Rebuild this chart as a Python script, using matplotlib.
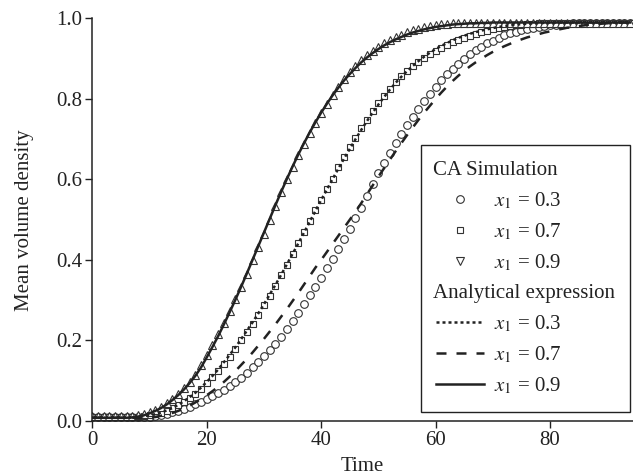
# Mean volume density vs time: CA simulation against analytical expression
import numpy as np
import matplotlib.pyplot as plt
from matplotlib.lines import Line2D

plt.rcParams['font.family'] = ['Liberation Serif', 'DejaVu Serif']
plt.rcParams['mathtext.fontset'] = 'stix'

# data, one value per time unit (t = 0 .. 94)
time = np.arange(0, 95)

ca_03 = [0.01, 0.01, 0.01, 0.01, 0.01, 0.01, 0.01, 0.01, 0.01, 0.01,
         0.01, 0.012, 0.015, 0.018, 0.022, 0.026, 0.031, 0.036, 0.042, 0.048,
         0.055, 0.062, 0.07, 0.078, 0.087, 0.097, 0.108, 0.12, 0.133, 0.147,
         0.161, 0.176, 0.192, 0.209, 0.228, 0.248, 0.269, 0.29, 0.312, 0.334,
         0.356, 0.379, 0.402, 0.427, 0.452, 0.478, 0.504, 0.53, 0.56, 0.588,
         0.615, 0.641, 0.666, 0.69, 0.713, 0.735, 0.756, 0.776, 0.795, 0.813,
         0.83, 0.846, 0.861, 0.875, 0.888, 0.9, 0.911, 0.921, 0.93, 0.938,
         0.945, 0.952, 0.958, 0.963, 0.967, 0.971, 0.974, 0.977, 0.979, 0.981,
         0.983, 0.985, 0.986, 0.987, 0.988, 0.989, 0.99, 0.99, 0.99, 0.99,
         0.99, 0.99, 0.99, 0.99, 0.99]

ca_07 = [0.01, 0.01, 0.01, 0.01, 0.01, 0.01, 0.01, 0.01, 0.01, 0.012,
         0.014, 0.017, 0.021, 0.026, 0.032, 0.039, 0.047, 0.057, 0.068, 0.08,
         0.094, 0.109, 0.125, 0.142, 0.16, 0.18, 0.2, 0.22, 0.242, 0.264,
         0.287, 0.311, 0.336, 0.362, 0.388, 0.415, 0.442, 0.469, 0.496, 0.523,
         0.55, 0.576, 0.602, 0.63, 0.655, 0.68, 0.704, 0.727, 0.749, 0.77,
         0.79, 0.808, 0.825, 0.841, 0.856, 0.869, 0.881, 0.892, 0.902, 0.911,
         0.919, 0.927, 0.934, 0.941, 0.947, 0.952, 0.957, 0.962, 0.966, 0.97,
         0.973, 0.976, 0.979, 0.981, 0.983, 0.985, 0.986, 0.987, 0.988, 0.989,
         0.99, 0.99, 0.99, 0.99, 0.99, 0.99, 0.99, 0.99, 0.99, 0.99,
         0.99, 0.99, 0.99, 0.99, 0.99]

ca_09 = [0.012, 0.012, 0.012, 0.012, 0.012, 0.012, 0.012, 0.012, 0.014, 0.017,
         0.022, 0.028, 0.035, 0.044, 0.055, 0.067, 0.081, 0.097, 0.115, 0.138,
         0.165, 0.19, 0.216, 0.244, 0.273, 0.303, 0.334, 0.366, 0.399, 0.432,
         0.465, 0.5, 0.535, 0.568, 0.6, 0.63, 0.66, 0.688, 0.715, 0.74,
         0.765, 0.788, 0.81, 0.83, 0.849, 0.866, 0.882, 0.896, 0.909, 0.92,
         0.93, 0.939, 0.947, 0.954, 0.96, 0.966, 0.971, 0.975, 0.978, 0.981,
         0.984, 0.986, 0.987, 0.988, 0.989, 0.99, 0.99, 0.99, 0.99, 0.99,
         0.99, 0.99, 0.99, 0.99, 0.99, 0.99, 0.99, 0.99, 0.99, 0.99,
         0.99, 0.99, 0.99, 0.99, 0.99, 0.99, 0.99, 0.99, 0.99, 0.99,
         0.99, 0.99, 0.99, 0.99, 0.99]

# analytical curves as they appear in the plot
an_dot = [0.008, 0.008, 0.008, 0.008, 0.008, 0.008, 0.008, 0.009, 0.01, 0.012,
          0.014, 0.017, 0.021, 0.026, 0.032, 0.04, 0.049, 0.059, 0.07, 0.083,
          0.097, 0.112, 0.128, 0.146, 0.164, 0.183, 0.203, 0.224, 0.245, 0.267,
          0.29, 0.314, 0.338, 0.363, 0.389, 0.415, 0.441, 0.468, 0.495, 0.522,
          0.549, 0.575, 0.601, 0.627, 0.652, 0.676, 0.7, 0.723, 0.745, 0.766,
          0.786, 0.805, 0.823, 0.84, 0.855, 0.869, 0.882, 0.894, 0.905, 0.915,
          0.924, 0.932, 0.939, 0.946, 0.952, 0.957, 0.962, 0.966, 0.97, 0.973,
          0.976, 0.979, 0.981, 0.983, 0.985, 0.986, 0.987, 0.988, 0.989, 0.989,
          0.99, 0.99, 0.99, 0.99, 0.99, 0.99, 0.99, 0.99, 0.99, 0.99,
          0.99, 0.99, 0.99, 0.99, 0.99]

an_dash = [0.008, 0.008, 0.008, 0.008, 0.008, 0.008, 0.008, 0.008, 0.008, 0.008,
           0.008, 0.01, 0.013, 0.016, 0.02, 0.025, 0.031, 0.038, 0.046, 0.055,
           0.064, 0.074, 0.085, 0.097, 0.11, 0.124, 0.139, 0.154, 0.17, 0.187,
           0.204, 0.222, 0.24, 0.259, 0.278, 0.298, 0.318, 0.339, 0.36, 0.381,
           0.4, 0.42, 0.44, 0.46, 0.48, 0.5, 0.52, 0.541, 0.563, 0.585,
           0.607, 0.628, 0.649, 0.67, 0.69, 0.71, 0.729, 0.748, 0.766, 0.783,
           0.8, 0.816, 0.831, 0.845, 0.858, 0.87, 0.881, 0.891, 0.9, 0.909,
           0.917, 0.924, 0.931, 0.937, 0.943, 0.948, 0.953, 0.957, 0.961, 0.965,
           0.968, 0.971, 0.974, 0.977, 0.979, 0.981, 0.983, 0.985, 0.986, 0.987,
           0.988, 0.989, 0.99, 0.99, 0.99]

an_solid = [0.008, 0.008, 0.008, 0.008, 0.008, 0.008, 0.008, 0.009, 0.011, 0.014,
            0.019, 0.025, 0.032, 0.041, 0.052, 0.064, 0.078, 0.094, 0.112, 0.133,
            0.158, 0.184, 0.211, 0.24, 0.27, 0.301, 0.333, 0.366, 0.4, 0.434,
            0.468, 0.502, 0.536, 0.569, 0.601, 0.632, 0.662, 0.69, 0.717, 0.742,
            0.766, 0.788, 0.809, 0.828, 0.846, 0.862, 0.877, 0.891, 0.903, 0.914,
            0.924, 0.933, 0.941, 0.948, 0.954, 0.96, 0.965, 0.969, 0.973, 0.976,
            0.979, 0.981, 0.983, 0.985, 0.986, 0.987, 0.988, 0.988, 0.989, 0.989,
            0.99, 0.99, 0.99, 0.99, 0.99, 0.99, 0.99, 0.99, 0.99, 0.99,
            0.99, 0.99, 0.99, 0.99, 0.99, 0.99, 0.99, 0.99, 0.99, 0.99,
            0.99, 0.99, 0.99, 0.99, 0.99]

labels = ['$x_1$ = 0.3', '$x_1$ = 0.7', '$x_1$ = 0.9']

ink = '#222222'
mk = dict(linestyle='none', markerfacecolor='white', markeredgecolor='#333333',
          markeredgewidth=0.8)
dot_style = dict(color=ink, linestyle=(0, (1.2, 1.2)), linewidth=1.8)
dash_style = dict(color=ink, linestyle=(0, (4, 4)), linewidth=1.8)
solid_style = dict(color=ink, linestyle='-', linewidth=1.8)

fig = plt.figure(figsize=(6.33, 4.75), dpi=100)
ax = fig.add_axes([0.1458, 0.1137, 0.8542, 0.8474])

ax.plot(time, ca_03, marker='o', markersize=5.5, zorder=2, **mk)
ax.plot(time, ca_07, marker='s', markersize=5, zorder=2, **mk)
ax.plot(time, ca_09, marker='^', markersize=6, zorder=2, **mk)

ax.plot(time, an_dot, zorder=3, **dot_style)
ax.plot(time, an_dash, zorder=3, **dash_style)
ax.plot(time, an_solid, zorder=3, **solid_style)

ax.set_xlim(0, 94.5)
ax.set_ylim(0, 1.0)
ax.set_xticks([0, 20, 40, 60, 80])
ax.set_yticks([0.0, 0.2, 0.4, 0.6, 0.8, 1.0])
ax.set_yticklabels(['0.0', '0.2', '0.4', '0.6', '0.8', '1.0'])
ax.set_xlabel('Time', fontsize=15, color=ink, labelpad=5)
ax.set_ylabel('Mean volume density', fontsize=15, color=ink, labelpad=16)
ax.tick_params(direction='out', length=5, width=1, labelsize=15,
               colors=ink, pad=2)
for s in ['top', 'right']:
    ax.spines[s].set_visible(False)
for s in ['left', 'bottom']:
    ax.spines[s].set_linewidth(1.1)
    ax.spines[s].set_color(ink)

# legend with two left-aligned group headers
blank1 = Line2D([], [], linestyle='none')
blank2 = Line2D([], [], linestyle='none')
handles = [blank1,
           Line2D([], [], marker='o', markersize=5.5, **mk),
           Line2D([], [], marker='s', markersize=5, **mk),
           Line2D([], [], marker='v', markersize=6, **mk),
           blank2,
           Line2D([], [], **dot_style),
           Line2D([], [], **dash_style),
           Line2D([], [], **solid_style)]
headers = ['CA Simulation', 'Analytical expression']
leg_labels = [headers[0]] + labels + [headers[1]] + labels
leg = ax.legend(handles, leg_labels, loc='lower right',
                bbox_to_anchor=(0.995, 0.022), fontsize=15, frameon=True,
                fancybox=False, framealpha=1, edgecolor=ink,
                handlelength=2.3, handletextpad=0.5, labelspacing=0.5,
                borderpad=0.75, borderaxespad=0)
leg.get_frame().set_linewidth(1.0)
for col in leg._legend_handle_box.get_children():
    for row in col.get_children():
        box, txt = row.get_children()
        if txt.get_text() in headers:
            box.set_width(-10)
for t in leg.get_texts():
    t.set_color(ink)

fig.savefig('out.png', dpi=100)
